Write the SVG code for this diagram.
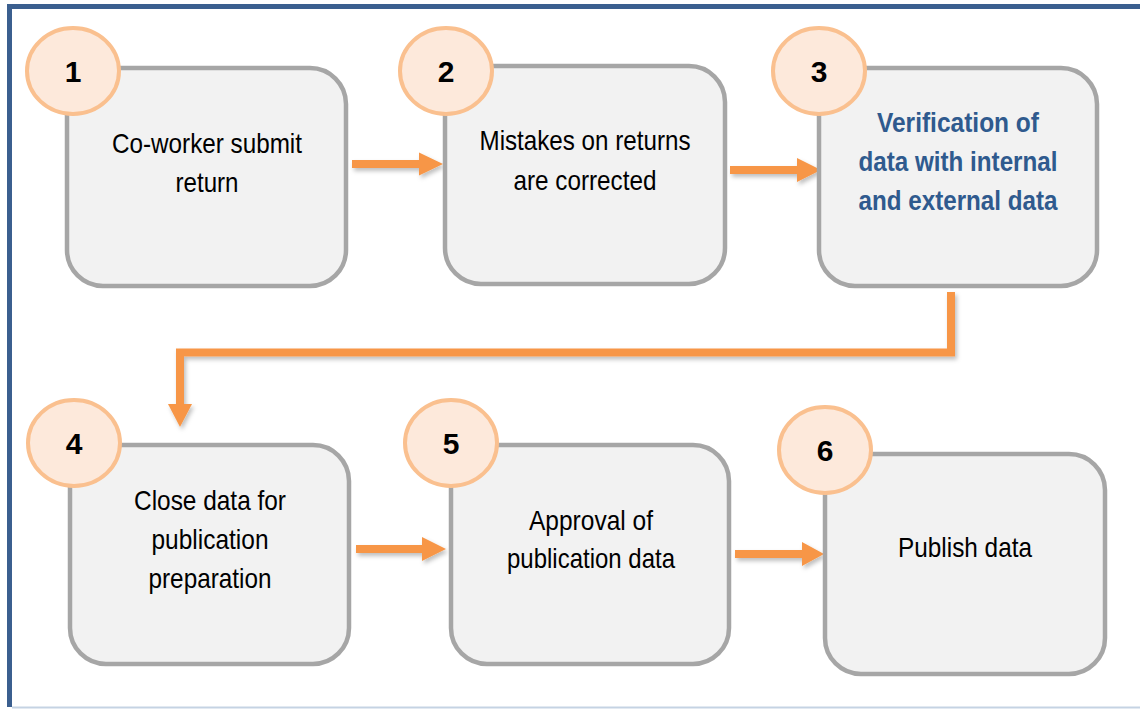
<svg xmlns="http://www.w3.org/2000/svg" width="1140" height="709" viewBox="0 0 1140 709">
<defs>
<filter id="sh" x="-20%" y="-50%" width="140%" height="200%">
<feDropShadow dx="2" dy="3" stdDeviation="2" flood-color="#000" flood-opacity="0.25"/>
</filter>
<style>
.box{fill:#f2f2f2;stroke:#a6a6a6;stroke-width:4.5}
.num{fill:#fde9db;stroke:#fac08f;stroke-width:4}
.nt{font-family:"Liberation Sans Narrow","Liberation Sans",Arial,sans-serif;font-weight:bold;font-size:30px;fill:#000;text-anchor:middle}
.t{font-family:"Liberation Sans Narrow","Liberation Sans",Arial,sans-serif;font-size:28px;fill:#000;text-anchor:middle}
.tb{font-family:"Liberation Sans Narrow","Liberation Sans",Arial,sans-serif;font-size:28px;font-weight:bold;fill:#2f5a8e;text-anchor:middle}
.ln{fill:none;stroke:#f79646;stroke-width:8}
.hd{fill:#f79646}
</style>
</defs>
<rect width="1140" height="709" fill="#fff"/>
<g id="frame">
<line x1="9.5" y1="6.5" x2="1140" y2="6.5" stroke="#3b5f8f" stroke-width="5"/>
<line x1="9.5" y1="4" x2="9.5" y2="707" stroke="#3b5f8f" stroke-width="5"/>
<line x1="12" y1="707.5" x2="1140" y2="707.5" stroke="#c5d3e3" stroke-width="2"/>
</g>
<g id="connectors" filter="url(#sh)">
<line class="ln" x1="352" y1="164" x2="420" y2="164"/>
<polygon class="hd" points="419,152.5 443,164 419,175.5"/>
<line class="ln" x1="730" y1="170" x2="798" y2="170"/>
<polygon class="hd" points="797,158 821,170 797,182"/>
<path class="ln" d="M951,292 V352.5 H180 V405"/>
<polygon class="hd" points="168,404 192,404 180,427"/>
<line class="ln" x1="356" y1="549" x2="423" y2="549"/>
<polygon class="hd" points="422,537 446,549 422,561"/>
<line class="ln" x1="735" y1="554" x2="803" y2="554"/>
<polygon class="hd" points="802,542 824,554 802,566"/>
</g>
<g id="node1">
<rect class="box" x="67" y="68" width="279" height="218" rx="36"/>
<ellipse class="num" cx="73" cy="71" rx="46" ry="43"/>
<text class="nt" x="73" y="82">1</text>
<text class="t" x="207" y="153" textLength="190" lengthAdjust="spacingAndGlyphs">Co-worker submit</text>
<text class="t" x="207" y="192" textLength="63" lengthAdjust="spacingAndGlyphs">return</text>
</g>
<g id="node2">
<rect class="box" x="445" y="66" width="280" height="218" rx="36"/>
<ellipse class="num" cx="446" cy="71" rx="46" ry="43"/>
<text class="nt" x="446" y="82">2</text>
<text class="t" x="585" y="150" textLength="211" lengthAdjust="spacingAndGlyphs">Mistakes on returns</text>
<text class="t" x="585" y="190" textLength="143" lengthAdjust="spacingAndGlyphs">are corrected</text>
</g>
<g id="node3">
<rect class="box" x="819" y="68" width="278" height="218" rx="36"/>
<ellipse class="num" cx="819" cy="71" rx="46" ry="43"/>
<text class="nt" x="819" y="82">3</text>
<text class="tb" x="958" y="132" textLength="162" lengthAdjust="spacingAndGlyphs">Verification of</text>
<text class="tb" x="958" y="171" textLength="199" lengthAdjust="spacingAndGlyphs">data with internal</text>
<text class="tb" x="958" y="210" textLength="199" lengthAdjust="spacingAndGlyphs">and external data</text>
</g>
<g id="node4">
<rect class="box" x="70" y="445" width="279" height="219" rx="36"/>
<ellipse class="num" cx="74" cy="443" rx="46" ry="43"/>
<text class="nt" x="74" y="454">4</text>
<text class="t" x="210" y="510" textLength="152" lengthAdjust="spacingAndGlyphs">Close data for</text>
<text class="t" x="210" y="549" textLength="117" lengthAdjust="spacingAndGlyphs">publication</text>
<text class="t" x="210" y="588" textLength="123" lengthAdjust="spacingAndGlyphs">preparation</text>
</g>
<g id="node5">
<rect class="box" x="451" y="445" width="278" height="219" rx="36"/>
<ellipse class="num" cx="451" cy="443" rx="46" ry="43"/>
<text class="nt" x="451" y="454">5</text>
<text class="t" x="591" y="530" textLength="124" lengthAdjust="spacingAndGlyphs">Approval of</text>
<text class="t" x="591" y="568" textLength="168" lengthAdjust="spacingAndGlyphs">publication data</text>
</g>
<g id="node6">
<rect class="box" x="825" y="454" width="280" height="220" rx="36"/>
<ellipse class="num" cx="825" cy="450" rx="46" ry="43"/>
<text class="nt" x="825" y="461">6</text>
<text class="t" x="965" y="557" textLength="134" lengthAdjust="spacingAndGlyphs">Publish data</text>
</g>
</svg>
